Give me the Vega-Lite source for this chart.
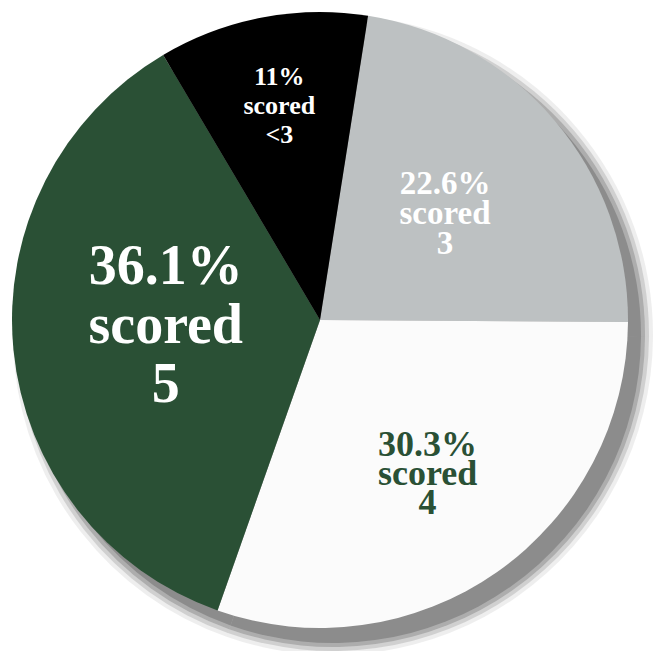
{
  "$schema": "https://vega.github.io/schema/vega-lite/v6.json",
  "width": 640,
  "height": 640,
  "autosize": {"type": "none"},
  "padding": {"left": 0, "top": 0, "right": 18, "bottom": 11},
  "background": "white",
  "view": {"stroke": null},
  "data": {
    "values": [
      {"rank": 1, "group": "scored 3", "pct": 22.6, "label": "22.6%\nscored\n3"},
      {"rank": 2, "group": "scored 4", "pct": 30.3, "label": "30.3%\nscored\n4"},
      {"rank": 3, "group": "scored 5", "pct": 36.1, "label": "36.1%\nscored\n5"},
      {"rank": 4, "group": "scored <3", "pct": 11.0, "label": "11%\nscored\n<3"}
    ]
  },
  "transform": [
    {"stack": "pct", "groupby": [], "sort": [{"field": "rank", "order": "ascending"}], "as": ["s0", "s1"]},
    {"calculate": "(datum.s0 + datum.s1) / 2", "as": "mid"}
  ],
  "encoding": {
    "theta": {"field": "s0", "type": "quantitative", "scale": {"domain": [0, 100], "range": [0.157, 6.440]}},
    "theta2": {"field": "s1"}
  },
  "layer": [
    {"mark": {"type": "arc", "outerRadius": 320, "xOffset": 13, "yOffset": 15, "color": "#8a8a8a", "opacity": 0.15}},
    {"mark": {"type": "arc", "outerRadius": 316, "xOffset": 13, "yOffset": 15, "color": "#8a8a8a", "opacity": 0.3}},
    {"mark": {"type": "arc", "outerRadius": 312, "xOffset": 13, "yOffset": 15, "color": "#8a8a8a", "opacity": 0.5}},
    {"mark": {"type": "arc", "outerRadius": 308, "xOffset": 13, "yOffset": 15, "color": "#8c8c8c", "opacity": 1}},
    {
      "mark": {"type": "arc", "outerRadius": 308, "stroke": null},
      "encoding": {
        "color": {
          "field": "group", "type": "nominal", "legend": null,
          "scale": {"domain": ["scored 3", "scored 4", "scored 5", "scored <3"], "range": ["#bdc1c2", "#fbfbfb", "#2a5035", "#000000"]}
        }
      }
    },
    {
      "transform": [{"filter": "datum.rank == 3"}],
      "mark": {"type": "text", "radius": 155, "font": "Liberation Serif", "fontWeight": "bold", "fontSize": 56, "lineHeight": 59, "lineBreak": "\n", "color": "white", "align": "center", "baseline": "middle", "dy": -68},
      "encoding": {"theta": {"field": "mid", "type": "quantitative"}, "theta2": null, "text": {"field": "label"}}
    },
    {
      "transform": [{"filter": "datum.rank == 1"}],
      "mark": {"type": "text", "radius": 164, "font": "Liberation Serif", "fontWeight": "bold", "fontSize": 33, "lineHeight": 30, "lineBreak": "\n", "color": "white", "align": "center", "baseline": "middle", "dy": -30},
      "encoding": {"theta": {"field": "mid", "type": "quantitative"}, "theta2": null, "text": {"field": "label"}}
    },
    {
      "transform": [{"filter": "datum.rank == 2"}],
      "mark": {"type": "text", "radius": 187, "font": "Liberation Serif", "fontWeight": "bold", "fontSize": 36, "lineHeight": 29, "lineBreak": "\n", "color": "#2a5035", "align": "center", "baseline": "middle", "dy": -28},
      "encoding": {"theta": {"field": "mid", "type": "quantitative"}, "theta2": null, "text": {"field": "label"}}
    },
    {
      "transform": [{"filter": "datum.rank == 4"}],
      "mark": {"type": "text", "radius": 217, "font": "Liberation Serif", "fontWeight": "bold", "fontSize": 26, "lineHeight": 29, "lineBreak": "\n", "color": "white", "align": "center", "baseline": "middle", "dy": -30},
      "encoding": {"theta": {"field": "mid", "type": "quantitative"}, "theta2": null, "text": {"field": "label"}}
    }
  ]
}
